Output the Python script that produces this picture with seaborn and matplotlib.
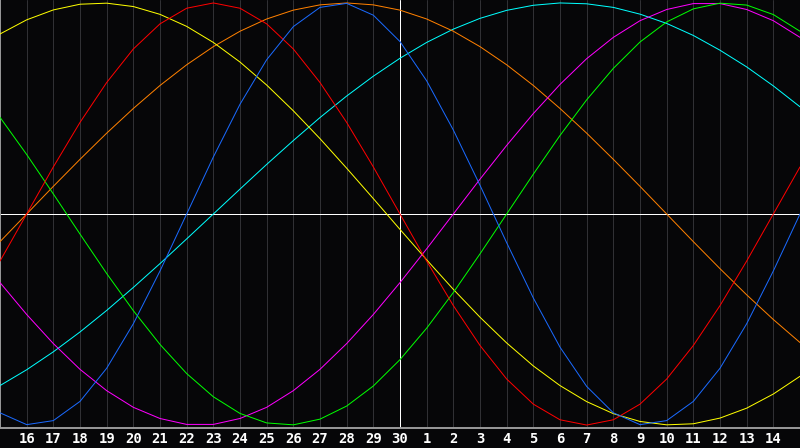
import pandas as pd
import seaborn as sns
import matplotlib
matplotlib.use("Agg")
import matplotlib.pyplot as plt

# --- Data: daily values of each cycle (-1 .. 1) ---
days = list(range(31))
day_labels = [str(d) for d in range(16, 31)] + [str(d) for d in range(1, 15)]
today = 15

physical = [-0.942, -0.998, -0.979, -0.888, -0.731, -0.520, -0.270, 0.0, 0.270, 0.520,
            0.731, 0.888, 0.979, 0.998, 0.942, 0.817, 0.631, 0.398, 0.136, -0.136,
            -0.398, -0.631, -0.817, -0.942, -0.998, -0.979, -0.888, -0.731, -0.520, -0.270, 0.0]
emotional = [-0.223, 0.0, 0.223, 0.434, 0.623, 0.782, 0.901, 0.975, 1.0, 0.975,
             0.901, 0.782, 0.623, 0.434, 0.223, 0.0, -0.223, -0.434, -0.623, -0.782,
             -0.901, -0.975, -1.0, -0.975, -0.901, -0.782, -0.623, -0.434, -0.223, 0.0, 0.223]
intellectual = [0.458, 0.282, 0.095, -0.095, -0.282, -0.458, -0.618, -0.756, -0.866, -0.945,
                -0.990, -0.999, -0.972, -0.910, -0.815, -0.690, -0.541, -0.372, -0.189, 0.0,
                0.189, 0.372, 0.541, 0.690, 0.815, 0.910, 0.972, 0.999, 0.990, 0.945, 0.866]
intuitive = [-0.325, -0.476, -0.614, -0.736, -0.837, -0.916, -0.969, -0.997, -0.997, -0.969,
             -0.916, -0.837, -0.736, -0.614, -0.476, -0.325, -0.165, 0.0, 0.165, 0.325,
             0.476, 0.614, 0.736, 0.837, 0.916, 0.969, 0.997, 0.997, 0.969, 0.916, 0.837]
aesthetic = [0.853, 0.920, 0.967, 0.994, 0.999, 0.983, 0.946, 0.889, 0.813, 0.720,
             0.611, 0.489, 0.357, 0.217, 0.073, -0.073, -0.217, -0.357, -0.489, -0.611,
             -0.720, -0.813, -0.889, -0.946, -0.983, -0.999, -0.994, -0.967, -0.920, -0.853, -0.769]
awareness = [-0.131, 0.0, 0.131, 0.259, 0.383, 0.5, 0.609, 0.707, 0.793, 0.866,
             0.924, 0.966, 0.991, 1.0, 0.991, 0.966, 0.924, 0.866, 0.793, 0.707,
             0.609, 0.5, 0.383, 0.259, 0.131, 0.0, -0.131, -0.259, -0.383, -0.5, -0.609]
spiritual = [-0.813, -0.738, -0.653, -0.559, -0.457, -0.348, -0.235, -0.118, 0.0, 0.118,
             0.235, 0.348, 0.457, 0.559, 0.653, 0.738, 0.813, 0.876, 0.927, 0.965,
             0.989, 1.0, 0.996, 0.979, 0.947, 0.903, 0.846, 0.776, 0.697, 0.607, 0.508]

cycles = {
    'Spiritual': spiritual,
    'Awareness': awareness,
    'Aesthetic': aesthetic,
    'Intuitive': intuitive,
    'Intellectual': intellectual,
    'Emotional': emotional,
    'Physical': physical,
}
palette = {
    'Physical': '#1a6aff',
    'Emotional': '#ff0000',
    'Intellectual': '#00ff00',
    'Intuitive': '#ff00ff',
    'Aesthetic': '#ffff00',
    'Awareness': '#ff8000',
    'Spiritual': '#00ffff',
}

# long-form table for seaborn
df = pd.concat([pd.DataFrame({'day': days, 'value': v, 'cycle': name})
                for name, v in cycles.items()], ignore_index=True)

bg = '#060608'
px = 0.72  # one pixel at 100 dpi, in points
sns.set_style("dark")

fig = plt.figure(figsize=(8, 4.48), dpi=100, facecolor=bg)
ax = fig.add_axes([0, 20 / 448, 1, 428 / 448])
ax.set_facecolor(bg)

# day grid
for d in range(1, 30):
    ax.axvline(d, color='#303034', linewidth=px, zorder=1)

ax.axhline(0, color='white', linewidth=px, zorder=2)
ax.axvline(today, color='white', linewidth=px, zorder=2)

sns.lineplot(data=df, x='day', y='value', hue='cycle', palette=palette,
             legend=False, linewidth=px, ax=ax, zorder=3)

ax.set_xlim(0, 30)
ax.set_ylim(-1.014, 1.014)
ax.set_xticks(range(1, 30))
ax.set_xticklabels(day_labels, color='white', fontsize=10, fontweight='bold',
                   family='DejaVu Sans Mono')
ax.set_yticks([])
ax.tick_params(axis='x', length=0, pad=3)
ax.set_xlabel('')
ax.set_ylabel('')
ax.grid(False)

for side in ['top', 'right']:
    ax.spines[side].set_visible(False)
for side in ['left', 'bottom']:
    ax.spines[side].set_color('#9a9a9a')
    ax.spines[side].set_linewidth(1.4)

plt.savefig('out.png', dpi=100, facecolor=bg)
